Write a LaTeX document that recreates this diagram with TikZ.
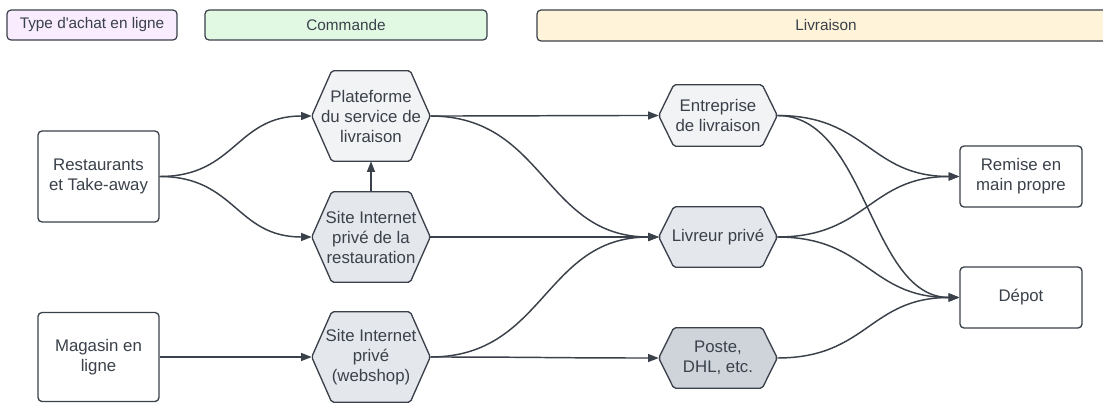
\documentclass[tikz,border=0pt]{standalone}
\usepackage{fontspec}
\setmainfont{Liberation Sans}
\newfontfamily\plainfont{Liberation Sans}
\usetikzlibrary{arrows.meta}
\pgfdeclarelayer{bg}
\pgfsetlayers{bg,main}
\definecolor{linec}{HTML}{3A414A}
\definecolor{txtc}{HTML}{3A414A}
\definecolor{hdrA}{HTML}{F8ECFE}
\definecolor{hdrB}{HTML}{E1F8E3}
\definecolor{hdrC}{HTML}{FFF3D9}
\definecolor{hexL}{HTML}{F2F3F5}
\definecolor{hexM}{HTML}{E4E7EC}
\definecolor{hexD}{HTML}{CFD4DB}
\newcommand\pxu{0.75pt}
\newcommand\hexdraw[3]{%
  \begin{pgfonlayer}{bg}
    \draw[hexline,fill=#3] (#1.west) -- ([xshift=#2*\pxu]#1.north west) -- ([xshift=-#2*\pxu]#1.north east) -- (#1.east) -- ([xshift=-#2*\pxu]#1.south east) -- ([xshift=#2*\pxu]#1.south west) -- cycle;
  \end{pgfonlayer}}
\tikzset{
  hdr/.style={draw=linec, line width=0.9pt, rounded corners=3pt, text=txtc, font=\plainfont\fontsize{11.5}{13}\selectfont, inner sep=0pt},
  boxn/.style={draw=linec, line width=1pt, rounded corners=3pt, fill=white, text=txtc, align=center, font=\fontsize{12.6}{15}\selectfont, inner sep=0pt},
  hexn/.style={text=txtc, align=center, font=\fontsize{12.6}{15}\selectfont, inner sep=0pt, minimum width=118*\pxu},
  hexline/.style={draw=linec, line width=1pt, rounded corners=1.5pt},
  conn/.style={draw=linec, line width=1.1pt, -{Triangle[length=8pt,width=6pt]}}
}
\begin{document}
\begin{tikzpicture}[x=0.75pt,y=-0.75pt]
\useasboundingbox (0,0) rectangle (1103,403);
% headers
\node[hdr, fill=hdrA, minimum width=170*\pxu, minimum height=30*\pxu] (hA) at (92,25) {Type d'achat en ligne};
\node[hdr, fill=hdrB, minimum width=282*\pxu, minimum height=30*\pxu] (hB) at (346,25) {Commande};
\node[hdr, fill=hdrC, minimum width=578*\pxu, minimum height=31*\pxu, text width=566*\pxu, align=center] (hC) at (826,25.5) {Livraison};
% rectangles
\node[boxn, minimum width=121*\pxu, minimum height=91*\pxu] (rest) at (98.5,176.5) {Restaurants\\et Take-away};
\node[boxn, minimum width=121*\pxu, minimum height=89*\pxu] (mag) at (98.5,357) {Magasin en\\ligne};
\node[boxn, minimum width=122*\pxu, minimum height=61*\pxu] (rem) at (1021,176.5) {Remise en\\main propre};
\node[boxn, minimum width=122*\pxu, minimum height=61*\pxu] (dep) at (1021,297.5) {Dépot};
% hexagons
\node[hexn, minimum height=90*\pxu] (plat) at (371,116) {Plateforme\\du service de\\livraison};
\hexdraw{plat}{20}{hexL}
\node[hexn, minimum height=90*\pxu] (site) at (371,237) {Site Internet\\privé de la\\restauration};
\hexdraw{site}{20}{hexM}
\node[hexn, minimum height=90*\pxu] (web) at (371,357) {Site Internet\\privé\\(webshop)};
\hexdraw{web}{20}{hexM}
\node[hexn, minimum height=61*\pxu] (ent) at (718,115.5) {Entreprise\\de livraison};
\hexdraw{ent}{15}{hexL}
\node[hexn, minimum height=60*\pxu] (liv) at (718,237) {Livreur privé};
\hexdraw{liv}{15}{hexM}
\node[hexn, minimum height=60*\pxu] (pos) at (718,358) {Poste,\\DHL, etc.};
\hexdraw{pos}{15}{hexD}
% connectors
\draw[conn] (rest.east) .. controls +(76,0) and +(-76,0) .. (plat.west);
\draw[conn] (rest.east) .. controls +(76,0) and +(-76,0) .. (site.west);
\draw[conn] (site.north) -- (plat.south);
\draw[conn] (mag.east) -- (web.west);
\draw[conn] (plat.east) .. controls +(110,0) and +(-110,0) .. (ent.west);
\draw[conn] (plat.east) .. controls +(115,0) and +(-115,0) .. (liv.west);
\draw[conn] (site.east) -- (liv.west);
\draw[conn] (web.east) .. controls +(115,0) and +(-115,0) .. (liv.west);
\draw[conn] (web.east) .. controls +(110,0) and +(-110,0) .. (pos.west);
\draw[conn] (ent.east) .. controls +(90,0) and +(-90,0) .. (rem.west);
\draw[conn] (ent.east) .. controls +(90,0) and +(-90,0) .. (dep.west);
\draw[conn] (liv.east) .. controls +(90,0) and +(-90,0) .. (rem.west);
\draw[conn] (liv.east) .. controls +(90,0) and +(-90,0) .. (dep.west);
\draw[conn] (pos.east) .. controls +(90,0) and +(-90,0) .. (dep.west);
\end{tikzpicture}
\end{document}
